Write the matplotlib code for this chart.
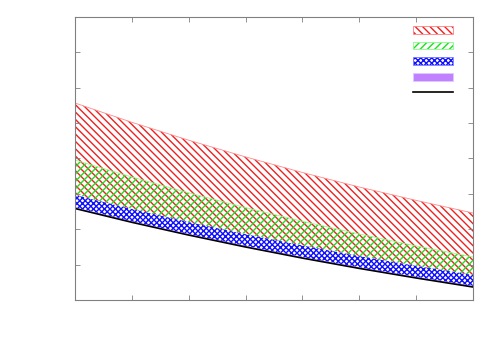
import matplotlib
matplotlib.use("Agg")
import matplotlib.pyplot as plt
import numpy as np
from matplotlib.patches import Patch
from matplotlib.lines import Line2D

# ---- data ----
x = [0, 1, 2, 3, 4, 5, 6, 7]
base = [2.587, 2.196, 1.835, 1.498, 1.184, 0.893, 0.622, 0.367]   # black line
purple = [0.03, 0.03, 0.03, 0.03, 0.03, 0.03, 0.03, 0.03]
blue = [0.351, 0.346, 0.337, 0.332, 0.327, 0.318, 0.312, 0.310]
green = [0.990, 0.905, 0.828, 0.752, 0.684, 0.625, 0.565, 0.509]
red = [1.611, 1.546, 1.487, 1.433, 1.379, 1.328, 1.287, 1.243]
labels = ["", "", "", "", ""]

plt.rcParams['hatch.linewidth'] = 1.5

DPI = 200 / 3
fig = plt.figure(figsize=(7.5, 5.25), dpi=DPI)
ax = fig.add_axes([0.15, 0.1429, 0.796, 0.8085])

b = np.array(base)
p_top = b + np.array(purple)
bl_top = p_top + np.array(blue)
g_top = bl_top + np.array(green)
r_top = g_top + np.array(red)

RED = '#ee2020'
RED_L = '#ff8c8c'
GREEN = '#22dd22'
GREEN_L = '#8cff8c'
BLUE = '#1010ff'
PURPLE = '#c080ff'

H_RED = '\\\\\\'
H_GREEN = '///'
H_BLUE = 'xxxx'

ax.fill_between(x, bl_top, r_top, facecolor='none', edgecolor=RED, hatch=H_RED, linewidth=0)
ax.plot(x, r_top, color=RED_L, lw=0.9)
ax.fill_between(x, bl_top, g_top, facecolor='none', edgecolor=GREEN, hatch=H_GREEN, linewidth=0)
ax.plot(x, g_top, color=GREEN_L, lw=0.9)
ax.fill_between(x, p_top, bl_top, facecolor='white', edgecolor=BLUE, hatch=H_BLUE, linewidth=0)
ax.fill_between(x, b, p_top, facecolor=PURPLE, edgecolor='none', linewidth=0)
ax.plot(x, b, color='black', lw=1.8)

ax.set_xlim(0, 7)
ax.set_ylim(0, 8)
ax.set_xticks(range(0, 8))
ax.set_yticks(range(0, 9))
ax.tick_params(direction='in', length=5, width=0.9, color='#808080',
               labelleft=False, labelbottom=False, top=True, right=True)
for s in ax.spines.values():
    s.set_color('#808080')
    s.set_linewidth(1.2)

h_red = (Patch(facecolor='none', edgecolor=RED, hatch=H_RED, lw=0),
         Patch(facecolor='none', edgecolor=RED_L, lw=1.0))
h_green = (Patch(facecolor='none', edgecolor=GREEN, hatch=H_GREEN, lw=0),
           Patch(facecolor='none', edgecolor=GREEN_L, lw=1.0))
h_blue = (Patch(facecolor='white', edgecolor=BLUE, hatch=H_BLUE, lw=0),
          Patch(facecolor='none', edgecolor='#8080ff', lw=1.0))
h_purple = Patch(facecolor=PURPLE, edgecolor='#e0c8ff', lw=1.0)
h_black = Line2D([], [], color='black', lw=1.8)

ax.legend([h_red, h_green, h_blue, h_purple, h_black], labels,
          loc='upper right', bbox_to_anchor=(0.950, 0.968), frameon=False,
          handlelength=4.3, handleheight=0.9, handletextpad=0.0,
          borderpad=0, borderaxespad=0, labelspacing=0.71)

fig.savefig('out.png', dpi=DPI)
